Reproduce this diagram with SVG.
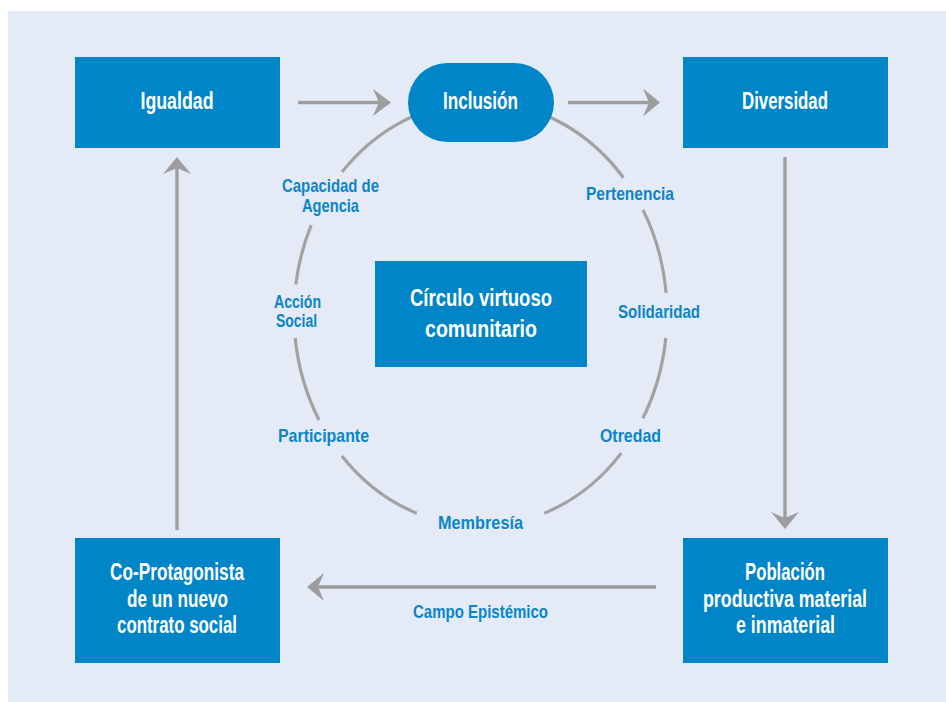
<svg xmlns="http://www.w3.org/2000/svg" width="946" height="702" viewBox="0 0 946 702">
<style>
.box{fill:#0085c8}
.wt{fill:#ffffff;font-family:"Liberation Sans",Arial,sans-serif;font-weight:bold;font-size:23.5px;text-anchor:middle}
.lb{fill:#0a85c9;font-family:"Liberation Sans",Arial,sans-serif;font-weight:bold;font-size:19px;text-anchor:middle}
.sm{font-size:18px}
.ln{fill:none;stroke:#9d9d9d;stroke-width:3.4}
.arc{fill:none;stroke:#a2a2a2;stroke-width:3.2}
.hd{fill:#9d9d9d}
</style>
<rect x="8" y="11" width="938" height="691" fill="#e4ebf7"/>
<g id="connectors">
<path class="arc" d="M341.9,172.1 A186.5,212 0 0 1 623.4,177.7"/>
<path class="arc" d="M295.8,284.5 A186.5,212 0 0 1 311.2,225.1"/>
<path class="arc" d="M319,420 A186.5,212 0 0 1 295.2,338"/>
<path class="arc" d="M416.7,513.2 A186.5,212 0 0 1 341.9,455.9"/>
<path class="arc" d="M621.3,453.1 A186.5,212 0 0 1 544.3,513.2"/>
<path class="arc" d="M665.8,338 A186.5,212 0 0 1 642.8,418.4"/>
<path class="arc" d="M643,209.9 A186.5,212 0 0 1 666.1,292.9"/>
<line class="ln" x1="298" y1="102.5" x2="382" y2="102.5"/>
<path class="hd" d="M391,102.5 L373,89 L379,102.5 L373,116 Z"/>
<line class="ln" x1="568" y1="102.5" x2="651" y2="102.5"/>
<path class="hd" d="M660,102.5 L643,88.5 L649,102.5 L643,116.5 Z"/>
<line class="ln" x1="785" y1="157" x2="785" y2="520"/>
<path class="hd" d="M785,529 L771,512 L785,518 L799,512 Z"/>
<line class="ln" x1="656" y1="587" x2="316" y2="587"/>
<path class="hd" d="M307,587 L324,573 L318,587 L324,601 Z"/>
<line class="ln" x1="177" y1="530" x2="177" y2="166"/>
<path class="hd" d="M177,157 L163,174 L177,168 L191,174 Z"/>
</g>
<g id="igualdad"><rect class="box" x="75" y="57" width="205" height="91"/><text class="wt" x="177" y="109" textLength="73" lengthAdjust="spacingAndGlyphs">Igualdad</text></g>
<g id="inclusion"><rect class="box" x="408" y="63" width="146" height="79" rx="39.5" ry="39.5"/><text class="wt" x="480.5" y="109" textLength="75" lengthAdjust="spacingAndGlyphs">Inclusión</text></g>
<g id="diversidad"><rect class="box" x="683" y="57" width="205" height="91"/><text class="wt" x="785" y="109" textLength="86" lengthAdjust="spacingAndGlyphs">Diversidad</text></g>
<g id="circulo"><rect class="box" x="375" y="261" width="212" height="106"/><text class="wt" x="481" y="306" textLength="142" lengthAdjust="spacingAndGlyphs">Círculo virtuoso</text><text class="wt" x="481" y="337" textLength="112" lengthAdjust="spacingAndGlyphs">comunitario</text></g>
<g id="coprotagonista"><rect class="box" x="75" y="538" width="205" height="125"/><text class="wt" x="177" y="580" textLength="134" lengthAdjust="spacingAndGlyphs">Co-Protagonista</text><text class="wt" x="177.5" y="607" textLength="101" lengthAdjust="spacingAndGlyphs">de un nuevo</text><text class="wt" x="177" y="633" textLength="120" lengthAdjust="spacingAndGlyphs">contrato social</text></g>
<g id="poblacion"><rect class="box" x="683" y="538" width="205" height="125"/><text class="wt" x="785" y="580" textLength="80" lengthAdjust="spacingAndGlyphs">Población</text><text class="wt" x="785" y="607" textLength="164" lengthAdjust="spacingAndGlyphs">productiva material</text><text class="wt" x="785.5" y="633" textLength="99" lengthAdjust="spacingAndGlyphs">e inmaterial</text></g>
<g id="labels">
<text class="lb" x="330.5" y="192" textLength="97" lengthAdjust="spacingAndGlyphs">Capacidad de</text>
<text class="lb" x="330.5" y="212" textLength="57" lengthAdjust="spacingAndGlyphs">Agencia</text>
<text class="lb" x="630" y="200" textLength="88" lengthAdjust="spacingAndGlyphs">Pertenencia</text>
<text class="lb sm" x="297.5" y="307.5" textLength="47" lengthAdjust="spacingAndGlyphs">Acción</text>
<text class="lb sm" x="296.5" y="327" textLength="41" lengthAdjust="spacingAndGlyphs">Social</text>
<text class="lb" x="659" y="318" textLength="82" lengthAdjust="spacingAndGlyphs">Solidaridad</text>
<text class="lb" x="323.5" y="442" textLength="91" lengthAdjust="spacingAndGlyphs">Participante</text>
<text class="lb" x="630.5" y="442" textLength="61" lengthAdjust="spacingAndGlyphs">Otredad</text>
<text class="lb" x="480.5" y="529" textLength="85" lengthAdjust="spacingAndGlyphs">Membresía</text>
<text class="lb" x="480.5" y="618" textLength="135" lengthAdjust="spacingAndGlyphs">Campo Epistémico</text>
</g>
</svg>
